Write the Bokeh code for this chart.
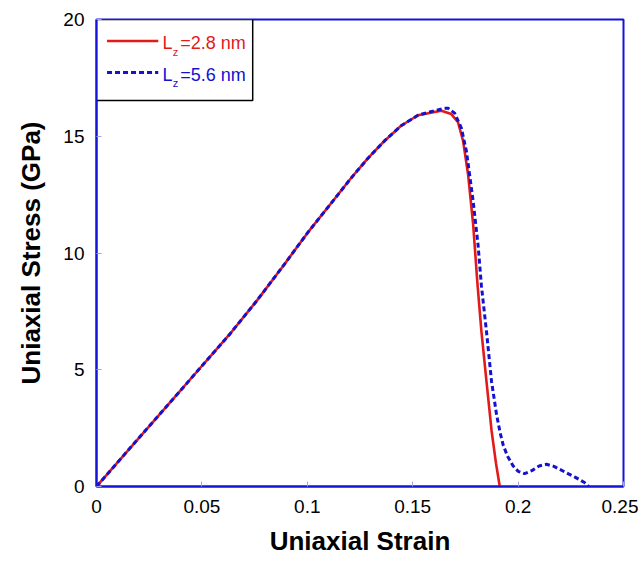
from bokeh.plotting import figure
from bokeh.models import FixedTicker, BoxAnnotation, Label, Range1d, ColumnDataSource
from bokeh.embed import file_html
from bokeh.resources import INLINE

# ---- data ----
red_strain = [0, 0.015, 0.031, 0.047, 0.063, 0.076, 0.089, 0.1, 0.1128, 0.1207,
              0.1287, 0.1366, 0.1445, 0.1525, 0.158, 0.1636, 0.1683, 0.1715, 0.1739, 0.1763,
              0.1787, 0.1807, 0.1826, 0.185, 0.1874, 0.1895, 0.1913]
red_stress = [0, 1.55, 3.2, 4.85, 6.5, 7.95, 9.5, 10.85, 12.3, 13.2,
              14.05, 14.8, 15.45, 15.9, 16.0, 16.09, 15.95, 15.6, 14.8, 13.35,
              11.2, 8.7, 6.64, 4.5, 2.4, 1.0, 0.0]

blue_strain = [0, 0.015, 0.031, 0.047, 0.063, 0.076, 0.089, 0.1, 0.1128, 0.1207,
               0.1287, 0.1366, 0.1445, 0.1525, 0.1585, 0.1651, 0.1668, 0.1699, 0.1731, 0.1755,
               0.177, 0.1787, 0.181, 0.1826, 0.185, 0.1874, 0.1898, 0.1915, 0.193, 0.195,
               0.1975, 0.2, 0.203, 0.2065, 0.21, 0.2135, 0.217, 0.222, 0.227, 0.2315, 0.2335]
blue_stress = [0, 1.55, 3.2, 4.85, 6.5, 7.95, 9.5, 10.85, 12.3, 13.2,
               14.05, 14.8, 15.45, 15.9, 16.05, 16.2, 16.2, 15.99, 15.35, 14.35,
               13.35, 12.2, 10.35, 8.6, 6.64, 4.5, 3.07, 2.3, 1.75, 1.3,
               0.9, 0.65, 0.55, 0.68, 0.88, 0.95, 0.86, 0.63, 0.4, 0.17, 0.0]

x_ticks = [0, 0.05, 0.1, 0.15, 0.2, 0.25]
x_tick_labels = ["0", "0.05", "0.1", "0.15", "0.2", "0.25"]
y_ticks = [0, 5, 10, 15, 20]
y_tick_labels = ["0", "5", "10", "15", "20"]

series_names = ["2.8 nm", "5.6 nm"]
x_title = "Uniaxial Strain"
y_title = "Uniaxial Stress (GPa)"

FONT = "Liberation Sans"
FRAME = "#1414d8"
RED = "#e31a1a"
BLUE = "#1212d0"

W, H = 638, 560
p = figure(width=W, height=H, output_backend="svg", toolbar_location=None,
           x_range=Range1d(0, 0.25), y_range=Range1d(0, 20),
           min_border_left=96, min_border_top=19, min_border_right=W - 623,
           min_border_bottom=H - 486)

p.background_fill_color = "white"
p.border_fill_color = "white"
p.outline_line_color = FRAME
p.outline_line_width = 2
p.xgrid.visible = False
p.ygrid.visible = False

for ax in (p.xaxis[0], p.yaxis[0]):
    ax.axis_line_color = FRAME
    ax.axis_line_width = 2
    ax.major_tick_line_color = "#a0a0f0"
    ax.major_tick_line_width = 1
    ax.major_tick_in = 5
    ax.major_tick_out = 0
    ax.minor_tick_line_color = None
    ax.major_label_text_font = FONT
    ax.major_label_text_font_size = "19px"
    ax.major_label_text_color = "black"
    ax.axis_label_text_font = FONT
    ax.axis_label_text_font_size = "26px"
    ax.axis_label_text_font_style = "bold"
    ax.axis_label_text_color = "black"

p.xaxis.ticker = FixedTicker(ticks=x_ticks)
p.xaxis.major_label_overrides = dict(zip(x_ticks, x_tick_labels))
p.yaxis.ticker = FixedTicker(ticks=y_ticks)
p.yaxis.major_label_overrides = dict(zip(y_ticks, y_tick_labels))
p.xaxis.axis_label = x_title
p.yaxis.axis_label = y_title
p.xaxis.major_label_standoff = 13
p.xaxis.axis_label_standoff = 10
p.yaxis.major_label_standoff = 12
p.yaxis.axis_label_standoff = 14

red_src = ColumnDataSource(dict(x=red_strain, y=red_stress))
blue_src = ColumnDataSource(dict(x=blue_strain, y=blue_stress))
p.line("x", "y", source=red_src, line_color=RED, line_width=2.6)
p.line("x", "y", source=blue_src, line_color=BLUE, line_width=3, line_dash="5 3")

# ---- legend (manual, to allow the subscript z) ----
box = BoxAnnotation(left=0, right=0.0741, bottom=16.53, top=20,
                    fill_color="white", fill_alpha=1.0,
                    line_color="black", line_width=1.5, line_alpha=1.0,
                    level="underlay")
p.add_layout(box)

key_x = [0.005, 0.0293]
p.line(key_x, [19.08, 19.08], line_color=RED, line_width=2.6)
p.line(key_x, [17.73, 17.73], line_color=BLUE, line_width=3, line_dash="5 3")

for name, col, yb, yz in ((series_names[0], RED, 18.98, 18.61),
                          (series_names[1], BLUE, 17.63, 17.26)):
    p.add_layout(Label(x=0.0313, y=yb, text="L", text_color=col, text_font=FONT,
                       text_font_size="18px", text_baseline="alphabetic"))
    p.add_layout(Label(x=0.0362, y=yz, text="z", text_color=col, text_font=FONT,
                       text_font_size="11px", text_baseline="alphabetic"))
    p.add_layout(Label(x=0.0397, y=yb, text="=" + name, text_color=col, text_font=FONT,
                       text_font_size="18px", text_baseline="alphabetic"))

open("out.html", "w").write(file_html(p, INLINE))
